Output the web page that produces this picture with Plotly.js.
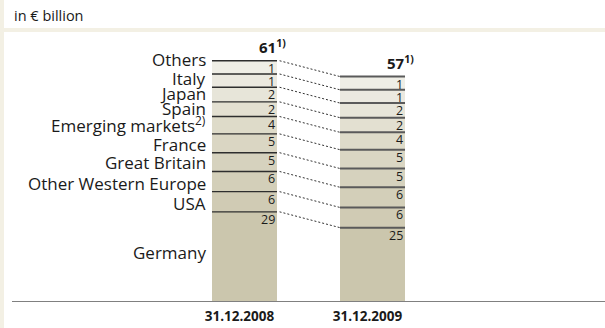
<!DOCTYPE html>
<html>
<head>
<meta charset="utf-8">
<script src="https://cdn.plot.ly/plotly-3.0.1.min.js"></script>
<style>html,body{margin:0;padding:0;background:#fff;}#chart{width:605px;height:328px;}</style>
</head>
<body>
<div id="chart"></div>
<script>
// ---- data ----
const categories = ['31.12.2008', '31.12.2009'];
const segments = ['Germany', 'USA', 'Other Western Europe', 'Great Britain', 'France',
  'Emerging markets<sup>2)</sup>', 'Spain', 'Japan', 'Italy', 'Others'];
const values2008 = [29, 6, 6, 5, 5, 4, 2, 2, 1, 1];
const values2009 = [25, 6, 6, 5, 5, 4, 2, 2, 1, 1];
const totals = [61, 57];
const totalNote = '1)';
const unitLabel = 'in € billion';

// ---- styles ----
const segColors = ['#cbc6ad', '#d0cbb4', '#d3cfb9', '#d6d2be', '#dad6c3',
  '#dedbc9', '#e3e0d1', '#e7e5d9', '#ebe9e0', '#efeee6'];
const font = '"Open Sans", "Noto Sans", sans-serif';
const barW = 0.508;
const labelShift = [4, -4, -4, -4, -4, -4, -4, -4, -4, 2];

// The original compresses the small shares (minimum visible height);
// the base segment absorbs the rest so that bar totals stay to scale.
function displayHeights(vals, total) {
  const h = vals.map((v, i) => i === 0 ? 0 : 3 + 0.35 * v);
  h[0] = total - h.slice(1).reduce((a, b) => a + b, 0);
  return h;
}
const series = [values2008, values2009];
const disp = series.map((vals, j) => displayHeights(vals, totals[j]));
const tops = disp.map(h => { let c = 0; return h.map(v => (c += v)); });

const traces = segments.map((name, i) => ({
  type: 'bar', name: name, x: categories,
  y: [disp[0][i], disp[1][i]], width: barW,
  marker: { color: segColors[i], line: { width: 0 } },
  hoverinfo: 'skip', showlegend: false
}));

const shapes = [];
// side strip and header band
shapes.push({ type: 'rect', xref: 'paper', yref: 'paper', x0: 0, x1: 4 / 605,
  y0: -0.2, y1: 1.3, fillcolor: '#f3f0e4', line: { width: 0 }, layer: 'below' });
shapes.push({ type: 'rect', xref: 'paper', yref: 'paper', x0: 4 / 605, x1: 1,
  y0: (302 - 32) / 260, y1: (302 - 28) / 260, fillcolor: '#f3f0e4', line: { width: 0 }, layer: 'below' });
// baseline
shapes.push({ type: 'line', xref: 'paper', yref: 'y', x0: 12 / 605, x1: 1, y0: 0, y1: 0,
  line: { color: '#808080', width: 2 } });
// segment top lines
[0, 1].forEach(j => {
  tops[j].forEach(t => {
    shapes.push({ type: 'line', xref: 'x', yref: 'y', x0: j - barW / 2, x1: j + barW / 2,
      y0: t, y1: t, line: { color: j === 0 ? '#2e2e2e' : '#5a5a5a', width: j === 0 ? 1.4 : 2 } });
  });
});
// dotted connectors
tops[0].forEach((t, i) => {
  shapes.push({ type: 'line', xref: 'x', yref: 'y', x0: barW / 2 + 0.02, x1: 1 - barW / 2,
    y0: t, y1: tops[1][i], line: { color: '#333', width: 1, dash: '2px,2px' } });
});

const annotations = [];
annotations.push({ xref: 'paper', yref: 'paper', x: 12 / 605, y: (302 - 16) / 260,
  xanchor: 'left', yanchor: 'middle', text: unitLabel, showarrow: false,
  font: { family: font, size: 14.5, color: '#1a1a1a' } });
// country labels
segments.forEach((name, i) => {
  const bottom = tops[0][i] - disp[0][i];
  const isBase = i === 0;
  annotations.push({ xref: 'x', yref: 'y', x: -barW / 2, xshift: -5,
    y: isBase ? bottom + disp[0][i] / 2 : bottom, yshift: labelShift[i],
    xanchor: 'right', yanchor: isBase ? 'middle' : 'bottom',
    text: name, showarrow: false, borderpad: 0,
    font: { family: font, size: 17, color: '#1a1a1a' } });
});
// value labels
series.forEach((vals, j) => {
  vals.forEach((v, i) => {
    annotations.push({ xref: 'x', yref: 'y', x: j + barW / 2, xshift: -1,
      y: tops[j][i], yshift: 2, xanchor: 'right', yanchor: 'top',
      text: String(v), showarrow: false, borderpad: 0,
      font: { family: font, size: 12.5, color: '#1a1a1a' } });
  });
  annotations.push({ xref: 'x', yref: 'y', x: j + barW / 2, xshift: 10,
    y: totals[j], yshift: 3, xanchor: 'right', yanchor: 'bottom',
    text: '<b>' + totals[j] + '<sup>' + totalNote + '</sup></b>', showarrow: false, borderpad: 0,
    font: { family: font, size: 15, color: '#1a1a1a' } });
});

const layout = {
  width: 605, height: 328,
  margin: { l: 0, r: 0, t: 42, b: 26, pad: 0 },
  paper_bgcolor: '#fff', plot_bgcolor: '#fff',
  barmode: 'stack', bargap: 0,
  showlegend: false,
  xaxis: { type: 'category', range: [-244.5 / 128, 1 + (605 - 372.5) / 128],
    showgrid: false, zeroline: false, showline: false,
    ticks: 'outside', ticklen: 2, tickcolor: 'rgba(0,0,0,0)', ticklabelshift: -5,
    tickfont: { family: font, size: 13.5, color: '#1a1a1a', weight: 'bold' },
    automargin: false, fixedrange: true },
  yaxis: { range: [0, 260 / 3.955], showgrid: false, zeroline: false, showline: false,
    showticklabels: false, ticks: '', automargin: false, fixedrange: true },
  shapes: shapes, annotations: annotations
};

Plotly.newPlot('chart', traces, layout, { staticPlot: true, displayModeBar: false });
</script>
</body>
</html>
